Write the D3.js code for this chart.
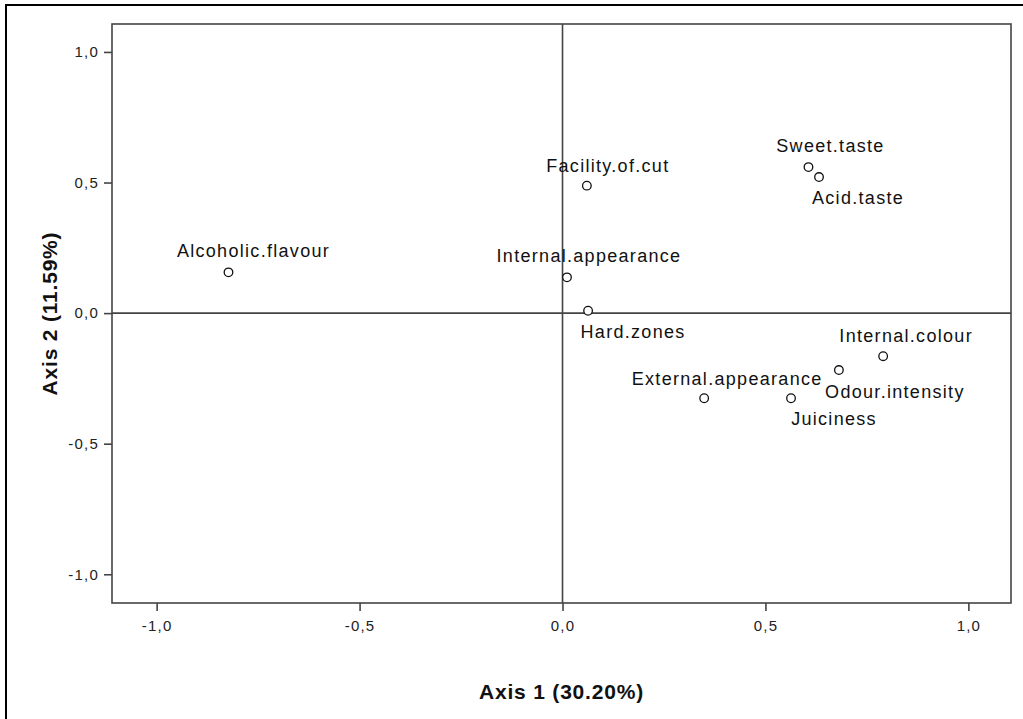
<!DOCTYPE html>
<html>
<head>
<meta charset="utf-8">
<script src="https://cdn.jsdelivr.net/npm/d3@7"></script>
<style>
  body{margin:0;background:#fff;}
  svg{display:block;font-family:"Liberation Sans",Arial,sans-serif;}
</style>
</head>
<body>
<svg></svg>
<script>
// variables (points of the plot)
var names=["Alcoholic.flavour","Facility.of.cut","Internal.appearance","Hard.zones","Sweet.taste",
  "Acid.taste","Internal.colour","Odour.intensity","External.appearance","Juiciness"];
var axis1=[-0.823,0.060,0.011,0.063,0.606,0.632,0.790,0.681,0.349,0.563];
var axis2=[0.156,0.488,0.137,0.009,0.559,0.521,-0.165,-0.218,-0.326,-0.326];
var ticks=[-1.0,-0.5,0.0,0.5,1.0];
var xTitle="Axis 1 (30.20%)", yTitle="Axis 2 (11.59%)";

// where each label sits relative to its point (dx, dy in px)
var labelPos=[[25,-15],[21,-14],[22,-15],[45,27],[22,-15],[39,27],[23,-14],[56,28],[23,-13],[43,27]];

document.addEventListener("DOMContentLoaded",function(){
  var data=names.map(function(n,i){return {name:n,x:axis1[i],y:axis2[i],lp:labelPos[i]};});
  createChart(data);
});

var createChart=function(data){
  var svgWidth=1023,svgHeight=719;
  var left=112,right=1011,top=24,bottom=603;
  var font='"Liberation Sans",Arial,sans-serif';

  var svg=d3.select('svg')
    .attr('width',svgWidth)
    .attr('height',svgHeight);

  // outer frame
  svg.append('rect')
    .attr('x',6).attr('y',5)
    .attr('width',1040).attr('height',740)
    .attr('fill','none')
    .attr('stroke','#000')
    .attr('stroke-width',2);

  var x=d3.scaleLinear().domain([-1.11,1.105]).range([left,right]);
  var y=d3.scaleLinear().domain([-1.11,1.107]).range([bottom,top]);

  // comma decimals, plain hyphen for minus
  var fmt=function(d){return d3.format(".1f")(d).replace(".",",").replace("\u2212","-");};

  // plot box
  svg.append('rect')
    .attr('x',left).attr('y',top)
    .attr('width',right-left).attr('height',bottom-top)
    .attr('fill','none')
    .attr('stroke','#444')
    .attr('stroke-width',1.6);

  // zero lines
  svg.append('line')
    .attr('x1',left).attr('x2',right)
    .attr('y1',y(0)).attr('y2',y(0))
    .attr('stroke','#444').attr('stroke-width',1.6);
  svg.append('line')
    .attr('x1',x(0)).attr('x2',x(0))
    .attr('y1',top).attr('y2',bottom)
    .attr('stroke','#444').attr('stroke-width',1.6);

  var xAxis=svg.append('g')
    .attr('transform','translate(0,'+bottom+')')
    .call(d3.axisBottom(x).tickValues(ticks).tickFormat(fmt).tickSize(8).tickPadding(9));
  var yAxis=svg.append('g')
    .attr('transform','translate('+left+',0)')
    .call(d3.axisLeft(y).tickValues(ticks).tickFormat(fmt).tickSize(8).tickPadding(5));

  [xAxis,yAxis].forEach(function(a){
    a.attr('font-family',font).attr('font-size',15);
    a.select('.domain').remove();
    a.selectAll('line').attr('stroke','#444').attr('stroke-width',1.6);
    a.selectAll('text')
      .attr('fill','#222')
      .style('letter-spacing','1.2px');
  });

  // axis titles
  svg.append('text')
    .attr('x',(left+right)/2)
    .attr('y',699)
    .attr('text-anchor','middle')
    .style('font-size','21px')
    .style('font-weight','bold')
    .style('letter-spacing','0.8px')
    .attr('fill','#111')
    .text(xTitle);

  svg.append('text')
    .attr('transform','translate(57,'+((top+bottom)/2)+') rotate(-90)')
    .attr('text-anchor','middle')
    .style('font-size','21px')
    .style('font-weight','bold')
    .style('letter-spacing','0.8px')
    .attr('fill','#111')
    .text(yTitle);

  // points
  svg.selectAll('.pt')
    .data(data)
    .enter().append('circle')
    .attr('class','pt')
    .attr('cx',function(d){return x(d.x);})
    .attr('cy',function(d){return y(d.y);})
    .attr('r',4.3)
    .attr('fill','#fff')
    .attr('stroke','#111')
    .attr('stroke-width',1.3);

  svg.selectAll('.lbl')
    .data(data)
    .enter().append('text')
    .attr('class','lbl')
    .attr('x',function(d){return x(d.x)+d.lp[0];})
    .attr('y',function(d){return y(d.y)+d.lp[1];})
    .attr('text-anchor','middle')
    .attr('fill','#111')
    .style('font-size','18px')
    .style('letter-spacing','1.3px')
    .text(function(d){return d.name;});
}
</script>
</body>
</html>
